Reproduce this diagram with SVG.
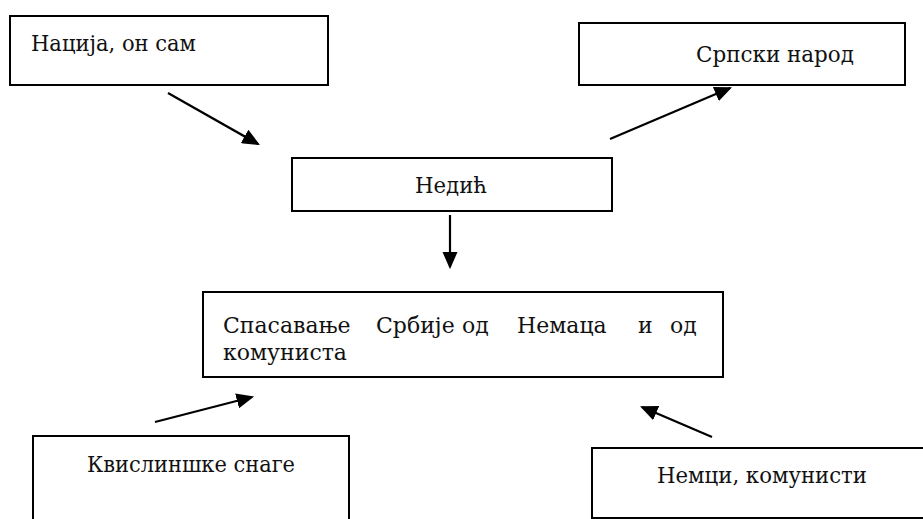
<svg xmlns="http://www.w3.org/2000/svg" width="923" height="519" viewBox="0 0 923 519">
  <style>
    .box { fill: #ffffff; stroke: #000000; stroke-width: 2; }
    .edge { fill: none; stroke: #000000; stroke-width: 2; }
    .lbl { font-family: "DejaVu Serif", "Liberation Serif", serif; font-size: 22px; fill: #111111; }
    .conn { stroke: #000000; stroke-width: 2.2; fill: none; marker-end: url(#head); }
  </style>
  <defs>
    <marker id="head" markerWidth="8" markerHeight="7" refX="7" refY="3.5" orient="auto" markerUnits="strokeWidth">
      <path d="M0,0 L8,3.5 L0,7 Z" fill="#000000"/>
    </marker>
  </defs>
  <rect x="0" y="0" width="923" height="519" fill="#ffffff"/>

  <!-- upper left source -->
  <g id="node-nacija">
    <rect class="box" x="10" y="16" width="318" height="69"/>
    <text class="lbl" x="31" y="51" textLength="165" lengthAdjust="spacingAndGlyphs">Нација, он сам</text>
  </g>

  <!-- upper right target -->
  <g id="node-srpski-narod">
    <rect class="box" x="579" y="23" width="326" height="62"/>
    <text class="lbl" x="696" y="62" textLength="158" lengthAdjust="spacingAndGlyphs">Српски народ</text>
  </g>

  <!-- central actor -->
  <g id="node-nedic">
    <rect class="box" x="292" y="158" width="320" height="53"/>
    <text class="lbl" x="415" y="193" textLength="72" lengthAdjust="spacingAndGlyphs">Недић</text>
  </g>

  <!-- goal, justified two-line label: each word of the first line placed on its own -->
  <g id="node-spasavanje">
    <rect class="box" x="203" y="292" width="520" height="85"/>
    <text class="lbl" x="223" y="333">Спасавање</text>
    <text class="lbl" x="376" y="333">Србије</text>
    <text class="lbl" x="462" y="333">од</text>
    <text class="lbl" x="517" y="333">Немаца</text>
    <text class="lbl" x="638" y="333">и</text>
    <text class="lbl" x="670" y="333">од</text>
    <text class="lbl" x="223" y="360">комуниста</text>
  </g>

  <!-- lower left helper, bottom edge runs off the page -->
  <g id="node-kvislinske">
    <path class="edge" d="M33,530 V436 H349 V530"/>
    <text class="lbl" x="87" y="472" textLength="208" lengthAdjust="spacingAndGlyphs">Квислиншке снаге</text>
  </g>

  <!-- lower right opponent, right edge runs off the page -->
  <g id="node-nemci">
    <path class="edge" d="M930,448 H592 V518 H930"/>
    <text class="lbl" x="657" y="483" textLength="210" lengthAdjust="spacingAndGlyphs">Немци, комунисти</text>
  </g>

  <g id="connectors">
    <line class="conn" x1="168" y1="93" x2="258" y2="144"/>
    <line class="conn" x1="610" y1="139" x2="730" y2="88"/>
    <line class="conn" x1="450" y1="215" x2="450" y2="267"/>
    <line class="conn" x1="155" y1="422" x2="252" y2="397"/>
    <line class="conn" x1="712" y1="437" x2="642" y2="407"/>
  </g>
</svg>
